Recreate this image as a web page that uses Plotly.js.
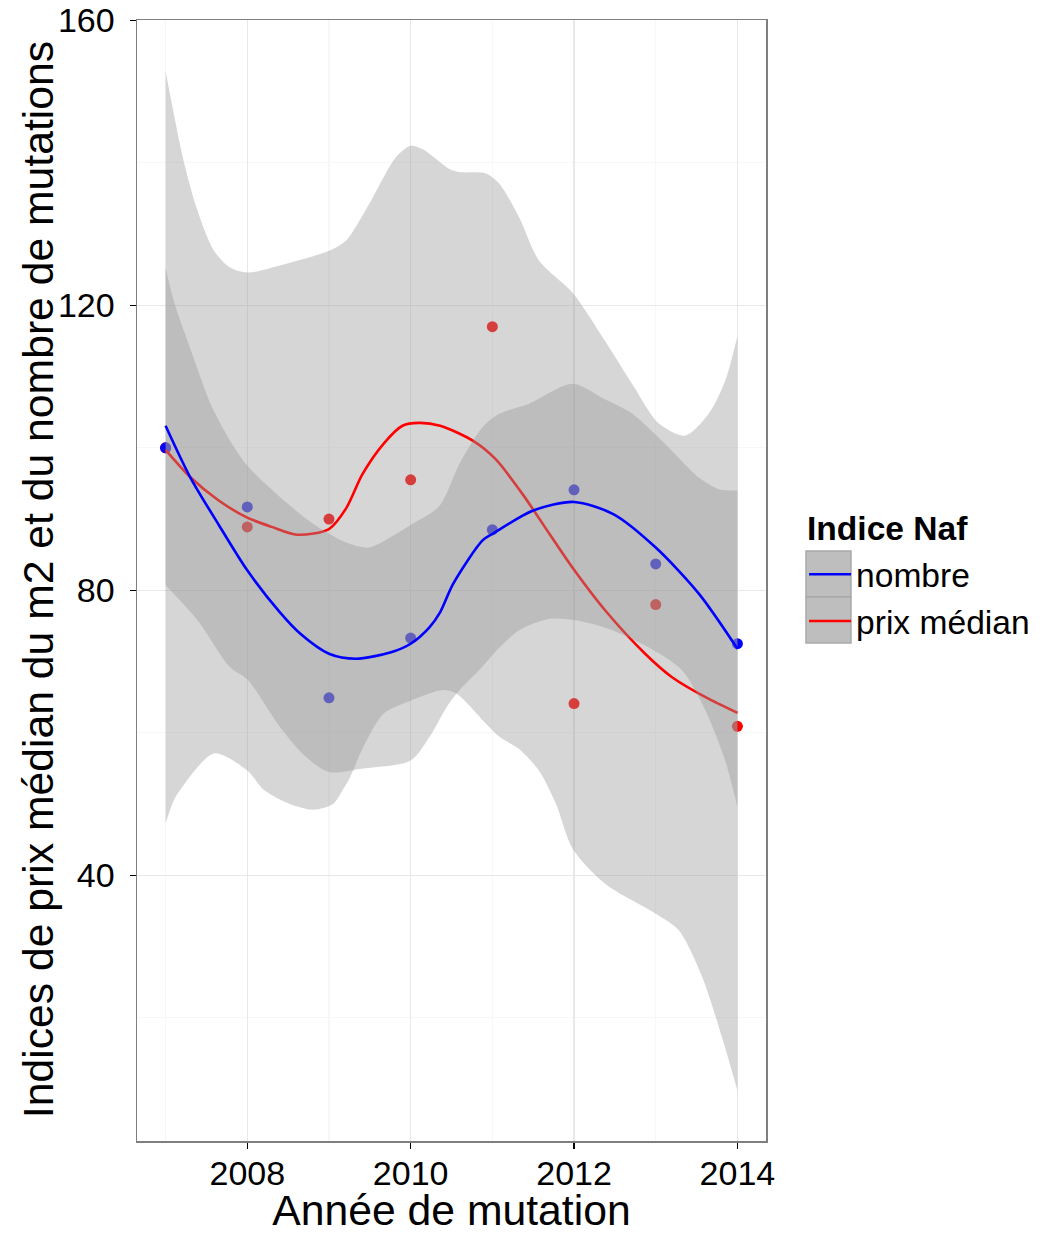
<!DOCTYPE html>
<html>
<head>
<meta charset="utf-8">
<script src="https://cdn.plot.ly/plotly-3.0.1.min.js"></script>
<style>
  html, body { margin: 0; padding: 0; background: #ffffff; }
  #chart { width: 1061px; height: 1234px; }
</style>
</head>
<body>
<div id="chart"></div>
<script>
// ---- data ----
const years = [2007, 2008, 2009, 2010, 2011, 2012, 2013, 2014];
const nombrePts = [100, 91.7, 64.9, 73.3, 88.5, 94.1, 83.7, 72.5];
const prixPts = [100, 88.9, 90.0, 95.5, 117.0, 64.1, 78.0, 60.9];

// loess fit "nombre"
const nombreFitX = [2007, 2007.3, 2007.65, 2008, 2008.4, 2008.65, 2009, 2009.33, 2009.76, 2010, 2010.23, 2010.36, 2010.52, 2010.88, 2011, 2011.5, 2012, 2012.48, 2013, 2013.53, 2014];
const nombreFitY = [103.1, 95.9, 89.2, 82.8, 76.9, 73.9, 71.1, 70.4, 71.3, 72.5, 74.8, 76.9, 80.9, 87.0, 87.9, 91.2, 92.4, 90.7, 86.0, 79.5, 71.8];
// confidence band "nombre"
const nombreUpX = [2007, 2007.1, 2007.3, 2007.55, 2007.79, 2008.0, 2008.4, 2008.81, 2009.21, 2009.49, 2009.82, 2010.02, 2010.35, 2010.6, 2010.88, 2011.09, 2011.45, 2011.98, 2012.38, 2012.71, 2013.11, 2013.52, 2013.77, 2014];
const nombreUpY = [125.3, 120.6, 114.0, 106.2, 101.0, 97.5, 93.1, 89.3, 86.7, 86.0, 87.9, 89.3, 91.8, 97.8, 102.9, 104.8, 106.2, 109.0, 106.8, 104.8, 100.6, 95.9, 94.2, 94.0];
const nombreLowX = [2007, 2007.39, 2007.79, 2008.0, 2008.4, 2008.7, 2009.0, 2009.42, 2010.0, 2010.23, 2010.44, 2010.6, 2010.84, 2011.09, 2011.33, 2011.7, 2012.02, 2012.42, 2012.91, 2013.32, 2013.61, 2013.85, 2014];
const nombreLowY = [80.7, 75.8, 69.2, 67.5, 60.8, 56.8, 54.5, 55.0, 56.1, 59.4, 63.6, 66.0, 68.8, 72.0, 74.4, 76.0, 75.8, 74.6, 72.0, 68.8, 63.1, 56.1, 49.6];

// loess fit "prix médian"
const prixFitX = [2007, 2007.3, 2007.65, 2008, 2008.3, 2008.61, 2009, 2009.21, 2009.41, 2009.67, 2009.9, 2010.1, 2010.36, 2010.76, 2011.04, 2011.37, 2011.7, 2011.98, 2012.38, 2012.87, 2013.2, 2013.61, 2014];
const prixFitY = [99.7, 95.9, 92.6, 90.2, 88.9, 87.8, 88.6, 91.5, 96.3, 100.6, 103.1, 103.5, 103.1, 101.0, 98.4, 93.5, 87.9, 83.2, 77.2, 71.1, 67.8, 65.0, 62.8];
// confidence band "prix médian"
const prixUpX = [2007, 2007.22, 2007.39, 2007.59, 2007.79, 2008.0, 2008.4, 2009.01, 2009.21, 2009.49, 2009.82, 2010.0, 2010.15, 2010.48, 2010.6, 2010.92, 2011.09, 2011.33, 2011.57, 2011.98, 2012.38, 2012.71, 2013.04, 2013.36, 2013.65, 2013.85, 2014];
const prixUpY = [152.9, 140.3, 133.3, 127.7, 125.3, 124.6, 125.6, 127.7, 129.1, 134.2, 140.8, 142.4, 141.9, 139.1, 138.7, 138.5, 137.0, 132.3, 126.3, 121.8, 115.0, 109.0, 103.4, 101.7, 104.8, 109.4, 115.7];
const prixLowX = [2007, 2007.1, 2007.18, 2007.59, 2008.0, 2008.2, 2008.52, 2008.81, 2009.05, 2009.17, 2009.26, 2009.42, 2009.67, 2010.0, 2010.39, 2010.56, 2010.92, 2011.09, 2011.33, 2011.57, 2011.78, 2011.98, 2012.38, 2013.0, 2013.28, 2013.57, 2013.81, 2014];
const prixLowY = [47.3, 50.5, 52.0, 57.1, 54.7, 52.0, 50.0, 49.2, 50.0, 52.0, 53.8, 58.0, 62.7, 64.5, 66.0, 65.5, 61.3, 59.4, 57.7, 54.7, 50.0, 43.8, 38.8, 34.6, 32.3, 25.7, 17.3, 9.8];

const seriesNames = ["nombre", "prix médian"];
const legendTitle = "Indice Naf";
const xTitle = "Année de mutation";
const yTitle = "Indices de prix médian du m2 et du nombre de mutations";
const xTicks = [2008, 2010, 2012, 2014];
const yTicks = [40, 80, 120, 160];

// ---- styles ----
const BLUE = "#0000ff", RED = "#ff0000";
const BAND = "rgba(153,153,153,0.4)";
const FONT = "Liberation Sans, Arial, Helvetica, sans-serif";
const spline = { shape: "spline", smoothing: 0.8 };

const traces = [
  // points (drawn first, under the bands)
  { x: years, y: prixPts, type: "scatter", mode: "markers", showlegend: false, hoverinfo: "skip",
    marker: { color: RED, size: 11, line: { width: 0 } } },
  { x: years, y: nombrePts, type: "scatter", mode: "markers", showlegend: false, hoverinfo: "skip",
    marker: { color: BLUE, size: 11, line: { width: 0 } } },
  // prix médian band + line
  { x: prixLowX, y: prixLowY, type: "scatter", mode: "lines", showlegend: false, hoverinfo: "skip",
    line: Object.assign({ width: 0, color: "rgba(0,0,0,0)" }, spline) },
  { x: prixUpX, y: prixUpY, type: "scatter", mode: "lines", showlegend: false, hoverinfo: "skip",
    fill: "tonexty", fillcolor: BAND, line: Object.assign({ width: 0, color: "rgba(0,0,0,0)" }, spline) },
  { x: prixFitX, y: prixFitY, type: "scatter", mode: "lines", name: seriesNames[1], legendrank: 2,
    line: Object.assign({ width: 2.6, color: RED }, spline) },
  // nombre band + line
  { x: nombreLowX, y: nombreLowY, type: "scatter", mode: "lines", showlegend: false, hoverinfo: "skip",
    line: Object.assign({ width: 0, color: "rgba(0,0,0,0)" }, spline) },
  { x: nombreUpX, y: nombreUpY, type: "scatter", mode: "lines", showlegend: false, hoverinfo: "skip",
    fill: "tonexty", fillcolor: BAND, line: Object.assign({ width: 0, color: "rgba(0,0,0,0)" }, spline) },
  { x: nombreFitX, y: nombreFitY, type: "scatter", mode: "lines", name: seriesNames[0], legendrank: 1,
    line: Object.assign({ width: 2.6, color: BLUE }, spline) }
];

const axisCommon = {
  showline: true, mirror: true, linecolor: "#7f7f7f", linewidth: 1.5,
  ticks: "outside", ticklen: 6, tickwidth: 1.5, tickcolor: "#000000",
  showgrid: true, gridcolor: "#e8e8e8", gridwidth: 1.2,
  zeroline: false,
  tickfont: { family: FONT, size: 34, color: "#000000" }
};

const layout = {
  width: 1061, height: 1234,
  margin: { l: 137, r: 295, t: 20, b: 93, pad: 0 },
  paper_bgcolor: "#ffffff", plot_bgcolor: "#ffffff",
  font: { family: FONT, color: "#000000" },
  xaxis: Object.assign({}, axisCommon, {
    range: [2006.65, 2014.35], tickvals: xTicks, ticktext: xTicks.map(String),
    minor: { dtick: 1, tick0: 2007, showgrid: true, gridcolor: "#f7f7f7", gridwidth: 1.2, ticks: "" },
    ticklabelstandoff: -4,
    title: { text: xTitle, font: { family: FONT, size: 42.7, color: "#000000" }, standoff: 9 }
  }),
  yaxis: Object.assign({}, axisCommon, {
    range: [2.7, 160.05], tickvals: yTicks, ticktext: yTicks.map(String),
    minor: { dtick: 20, tick0: 0, showgrid: true, gridcolor: "#f7f7f7", gridwidth: 1.2, ticks: "" },
    ticklabelstandoff: 8
  }),
  showlegend: true,
  legend: {
    x: 1.0605, xanchor: "left", y: 0.5308, yanchor: "top",
    traceorder: "normal",
    bgcolor: "rgba(0,0,0,0)", borderwidth: 0,
    font: { family: FONT, size: 33.6, color: "#000000" },
    tracegroupgap: 0, itemwidth: 42
  },
  annotations: [
    { text: "<b>" + legendTitle + "</b>", xref: "paper", yref: "paper", x: 1.0636, y: 0.5468,
      xanchor: "left", yanchor: "middle", showarrow: false, borderpad: 0,
      font: { family: FONT, size: 33.6, color: "#000000" } },
    { text: yTitle, xref: "paper", yref: "paper", x: -0.1574, y: 0.5012, textangle: -90,
      xanchor: "center", yanchor: "middle", showarrow: false, borderpad: 0,
      font: { family: FONT, size: 42.7, color: "#000000" } }
  ],
  shapes: [
    { type: "rect", xref: "paper", yref: "paper", x0: 1.0636, x1: 1.1351, y0: 0.4853, y1: 0.5263,
      fillcolor: "#bebebe", line: { color: "#a9a9a9", width: 1.5 }, layer: "below" },
    { type: "rect", xref: "paper", yref: "paper", x0: 1.0636, x1: 1.1351, y0: 0.4442, y1: 0.4853,
      fillcolor: "#bebebe", line: { color: "#a9a9a9", width: 1.5 }, layer: "below" }
  ]
};

Plotly.newPlot("chart", traces, layout, { staticPlot: true, displayModeBar: false });
</script>
</body>
</html>
